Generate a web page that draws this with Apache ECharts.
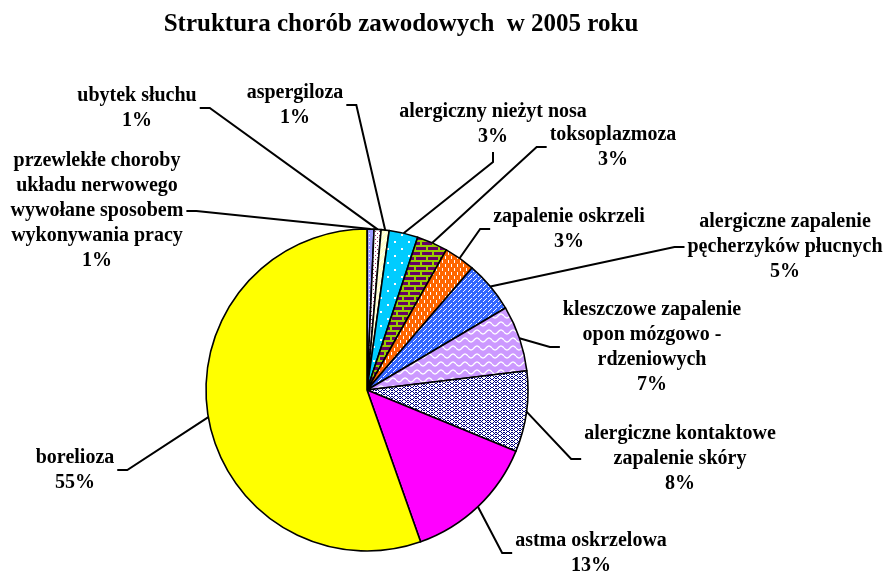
<!DOCTYPE html>
<html>
<head>
<meta charset="utf-8">
<script src="https://cdn.jsdelivr.net/npm/echarts@6/dist/echarts.min.js"></script>
<style>
html,body{margin:0;padding:0;background:#fff;}
#chart{width:888px;height:575px;}
</style>
</head>
<body>
<div id="chart"></div>
<script>
// ---- data ----
const categories = [
  'przewlekłe choroby układu nerwowego wywołane sposobem wykonywania pracy',
  'ubytek słuchu',
  'aspergiloza',
  'alergiczny nieżyt nosa',
  'toksoplazmoza',
  'zapalenie oskrzeli',
  'alergiczne zapalenie pęcherzyków płucnych',
  'kleszczowe zapalenie opon mózgowo - rdzeniowych',
  'alergiczne kontaktowe zapalenie skóry',
  'astma oskrzelowa',
  'borelioza'
];
const shares = [0.7, 0.7, 0.8, 2.9, 3.1, 3.1, 5.2, 6.6, 8.1, 13.4, 55.4];
const titleText = 'Struktura chorób zawodowych  w 2005 roku';

// label text wrapping (as in the original)
const labelText = [
  'przewlekłe choroby\nukładu nerwowego\nwywołane sposobem\nwykonywania pracy',
  'ubytek słuchu',
  'aspergiloza',
  'alergiczny nieżyt nosa',
  'toksoplazmoza',
  'zapalenie oskrzeli',
  'alergiczne zapalenie\npęcherzyków płucnych',
  'kleszczowe zapalenie\nopon mózgowo -\nrdzeniowych',
  'alergiczne kontaktowe\nzapalenie skóry',
  'astma oskrzelowa',
  'borelioza'
];

// ---- layout (label centres, side where the leader line attaches) ----
const labelLayoutCfg = [
  {x: 97,  y: 211, side: 'right'},
  {x: 137, y: 108, side: 'right'},
  {x: 295, y: 105, side: 'right'},
  {x: 493, y: 124, side: 'bottom'},
  {x: 613, y: 147, side: 'left'},
  {x: 569, y: 229, side: 'left'},
  {x: 785, y: 247, side: 'left'},
  {x: 652, y: 347, side: 'left'},
  {x: 680, y: 459, side: 'left'},
  {x: 591, y: 553, side: 'left'},
  {x: 75,  y: 470, side: 'right'}
];

// ---- patterns ----
function mk(w, h, draw) {
  const c = document.createElement('canvas');
  c.width = w; c.height = h;
  const g = c.getContext('2d');
  draw(g, w, h);
  return {image: c, repeat: 'repeat'};
}
function px(g, col, pts, s) {
  g.fillStyle = col;
  pts.forEach(p => g.fillRect(p[0], p[1], s || 1, s || 1));
}
const fills = [
  mk(4, 4, (g) => { g.fillStyle = '#9999ff'; g.fillRect(0,0,4,4); px(g,'#ffffff',[[1,1]]); }),
  mk(4, 4, (g) => { g.fillStyle = '#ffffff'; g.fillRect(0,0,4,4); px(g,'#993366',[[1,1],[3,3]],1); }),
  mk(6, 6, (g) => { g.fillStyle = '#ffffcc'; g.fillRect(0,0,6,6); px(g,'#ffffff',[[0,5],[1,4],[2,3],[3,2],[4,1],[5,0]]); }),
  mk(14, 14, (g) => { g.fillStyle = '#00ccff'; g.fillRect(0,0,14,14); px(g,'#ffffff',[[2,3],[9,10]],2); }),
  mk(12, 10, (g) => {
    g.fillStyle = '#660066'; g.fillRect(0,0,12,10);
    g.fillStyle = '#99cc00';
    g.fillRect(0,0,12,2); g.fillRect(0,5,12,2);
    g.fillRect(0,0,2,5); g.fillRect(6,5,2,5);
  }),
  mk(6, 8, (g) => { g.fillStyle = '#ff6600'; g.fillRect(0,0,6,8); g.fillStyle='#ffffff'; g.fillRect(1,0,1,3); g.fillRect(4,4,1,3); }),
  mk(5, 5, (g) => { g.fillStyle = '#3366ff'; g.fillRect(0,0,5,5); px(g,'#ffffff',[[0,4],[1,3],[3,1],[4,0]]); }),
  mk(12, 8, (g) => {
    g.fillStyle = '#cc99ff'; g.fillRect(0,0,12,8);
    g.strokeStyle = '#ffffff'; g.lineWidth = 1.3;
    g.beginPath();
    for (let x = 0; x <= 12; x += 0.5) {
      const y = 4 + 2 * Math.sin(x / 12 * Math.PI * 2);
      if (x === 0) g.moveTo(x, y); else g.lineTo(x, y);
    }
    g.stroke();
  }),
  mk(8, 8, (g) => {
    g.fillStyle = '#ffffff'; g.fillRect(0,0,8,8);
    px(g,'#000080',[[0,0],[1,1],[2,2],[3,3],[4,3],[5,2],[6,1],[7,0],[0,4],[1,5],[2,6],[3,7],[4,7],[5,6],[6,5],[7,4],
                    [0,2],[2,0],[5,0],[7,2],[2,4],[5,4],[0,6],[7,6]]);
  }),
  '#ff00ff',
  '#ffff00'
];

const chart = echarts.init(document.getElementById('chart'), null, {renderer: 'canvas'});

const data = categories.map((name, i) => ({
  name: name,
  value: shares[i],
  itemStyle: {color: fills[i]}
}));

chart.setOption({
  animation: false,
  backgroundColor: '#ffffff',
  title: {
    text: titleText,
    left: 401,
    top: 12,
    padding: 0,
    textAlign: 'center',
    textStyle: {
      fontFamily: 'Liberation Serif, Times New Roman, serif',
      fontWeight: 'bold',
      fontSize: 25,
      color: '#000'
    }
  },
  series: [{
    type: 'pie',
    center: [367, 390],
    radius: 161,
    startAngle: 90,
    clockwise: true,
    avoidLabelOverlap: false,
    itemStyle: {borderColor: '#000', borderWidth: 1.6},
    emphasis: {disabled: true},
    label: {
      show: true,
      position: 'outside',
      color: '#000',
      fontFamily: 'Liberation Serif, Times New Roman, serif',
      fontWeight: 'bold',
      fontSize: 20,
      lineHeight: 25,
      align: 'center',
      formatter: (p) => labelText[p.dataIndex] + '\n' + Math.round(p.value) + '%'
    },
    labelLine: {
      show: true,
      length: 10,
      length2: 10,
      lineStyle: {color: '#000', width: 2}
    },
    labelLayout: function (p) {
      const cfg = labelLayoutCfg[p.dataIndex];
      const w = p.labelRect.width, h = p.labelRect.height;
      const start = p.labelLinePoints ? p.labelLinePoints[0] : [cfg.x, cfg.y];
      let end, elbow;
      if (cfg.side === 'right') {
        end = [cfg.x + w / 2 + 3, cfg.y];
        elbow = [end[0] + 10, end[1]];
      } else if (cfg.side === 'left') {
        end = [cfg.x - w / 2 - 3, cfg.y];
        elbow = [end[0] - 10, end[1]];
      } else {
        end = [cfg.x, cfg.y + h / 2 + 3];
        elbow = [end[0], end[1] + 10];
      }
      return {
        x: cfg.x,
        y: cfg.y,
        align: 'center',
        verticalAlign: 'middle',
        labelLinePoints: [start, elbow, end]
      };
    },
    data: data
  }]
});
</script>
</body>
</html>
